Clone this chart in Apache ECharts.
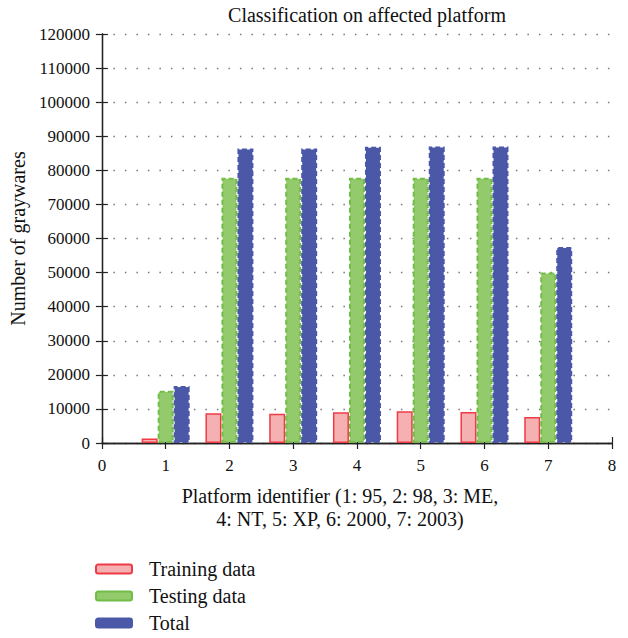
<!DOCTYPE html>
<html>
<head>
<meta charset="utf-8">
<script src="https://cdn.jsdelivr.net/npm/echarts@6/dist/echarts.min.js"></script>
<style>
html,body{margin:0;padding:0;background:#fff;}
#c{width:628px;height:638px;}
</style>
</head>
<body>
<div id="c"></div>
<script>
var platforms = [1, 2, 3, 4, 5, 6, 7];
var trainingData = [1300, 8700, 8600, 9000, 9300, 9100, 7600];
var testingData = [15300, 77800, 77800, 77800, 77800, 77800, 50000];
var totalData = [16700, 86400, 86400, 86900, 87000, 87000, 57500];
var seriesNames = ['Training data', 'Testing data', 'Total'];
var xTicks = [0, 1, 2, 3, 4, 5, 6, 7, 8];
var yTicks = [0, 10000, 20000, 30000, 40000, 50000, 60000, 70000, 80000, 90000, 100000, 110000, 120000];
var xAxisTitle = 'Platform identifier (1: 95, 2: 98, 3: ME,\n4: NT, 5: XP, 6: 2000, 7: 2003)';

function pairs(vals) { return platforms.map(function (p, i) { return [p, vals[i]]; }); }

var FONT = '"Liberation Serif", "DejaVu Serif", serif';
var chart = echarts.init(document.getElementById('c'), null, { renderer: 'svg' });
var axisLine = { show: true, lineStyle: { color: '#222', width: 1.3 } };
var tick = { show: true, inside: true, length: 6, lineStyle: { color: '#222', width: 1.2 } };
chart.setOption({
  animation: false,
  backgroundColor: '#fff',
  textStyle: { fontFamily: FONT },
  title: {
    text: 'Classification on affected platform',
    left: 362, top: 0, textAlign: 'center',
    textStyle: { fontFamily: FONT, fontSize: 20, fontWeight: 'normal', color: '#111' }
  },
  grid: { left: 97, right: 16, top: 34, bottom: 195 },
  legend: {
    orient: 'vertical', left: 95, top: 559, padding: 0,
    itemWidth: 36, itemHeight: 9, itemGap: 7,
    data: seriesNames,
    textStyle: { fontFamily: FONT, fontSize: 20, color: '#111', padding: [0, 0, 0, 12] }
  },
  graphic: [{
    type: 'text', x: 340, y: 507,
    style: {
      text: xAxisTitle,
      align: 'center', verticalAlign: 'middle', font: '20px ' + FONT, fill: '#111', lineHeight: 23
    }
  }],
  xAxis: [{
    type: 'value', min: xTicks[0], max: xTicks[xTicks.length - 1], interval: 1,
    position: 'bottom',
    axisLine: axisLine, axisTick: tick,
    axisLabel: { fontFamily: FONT, fontSize: 17, color: '#111', margin: 14, showMaxLabel: true },
    splitLine: { show: false }
  }, {
    type: 'value', min: xTicks[0], max: xTicks[xTicks.length - 1], interval: 1,
    position: 'top',
    axisLine: axisLine, axisTick: tick,
    axisLabel: { show: false },
    splitLine: { show: false }
  }],
  yAxis: [{
    type: 'value', min: yTicks[0], max: yTicks[yTicks.length - 1], interval: 10000,
    position: 'left',
    name: 'Number of graywares', nameLocation: 'middle', nameGap: 70,
    nameTextStyle: { fontFamily: FONT, fontSize: 20, color: '#111' },
    axisLine: axisLine, axisTick: tick,
    axisLabel: { fontFamily: FONT, fontSize: 17, color: '#111', margin: 12, formatter: function (v) { return String(v); } },
    splitLine: { show: true, lineStyle: { color: '#777', type: [1.5, 10], width: 1.3 } }
  }, {
    type: 'value', min: yTicks[0], max: yTicks[yTicks.length - 1], interval: 10000,
    position: 'right',
    axisLine: axisLine, axisTick: tick,
    axisLabel: { show: false },
    splitLine: { show: false }
  }],
  series: [{
    name: seriesNames[0], type: 'bar', data: pairs(trainingData), xAxisIndex: 0, yAxisIndex: 0,
    barWidth: 16, barGap: '0%',
    itemStyle: { color: '#f5b0b2', borderColor: '#ee3b45', borderWidth: 1.5 }
  }, {
    name: seriesNames[1], type: 'bar', data: pairs(testingData), xAxisIndex: 0, yAxisIndex: 0,
    barWidth: 16, barGap: '0%',
    itemStyle: { color: '#93ca6c', borderColor: '#72bd48', borderWidth: 2, borderType: [5, 3] }
  }, {
    name: seriesNames[2], type: 'bar', data: pairs(totalData), xAxisIndex: 0, yAxisIndex: 0,
    barWidth: 16, barGap: '0%',
    itemStyle: { color: '#4b58a8', borderColor: '#4b58a8', borderWidth: 2, borderType: [5, 3] }
  }]
});
</script>
</body>
</html>
